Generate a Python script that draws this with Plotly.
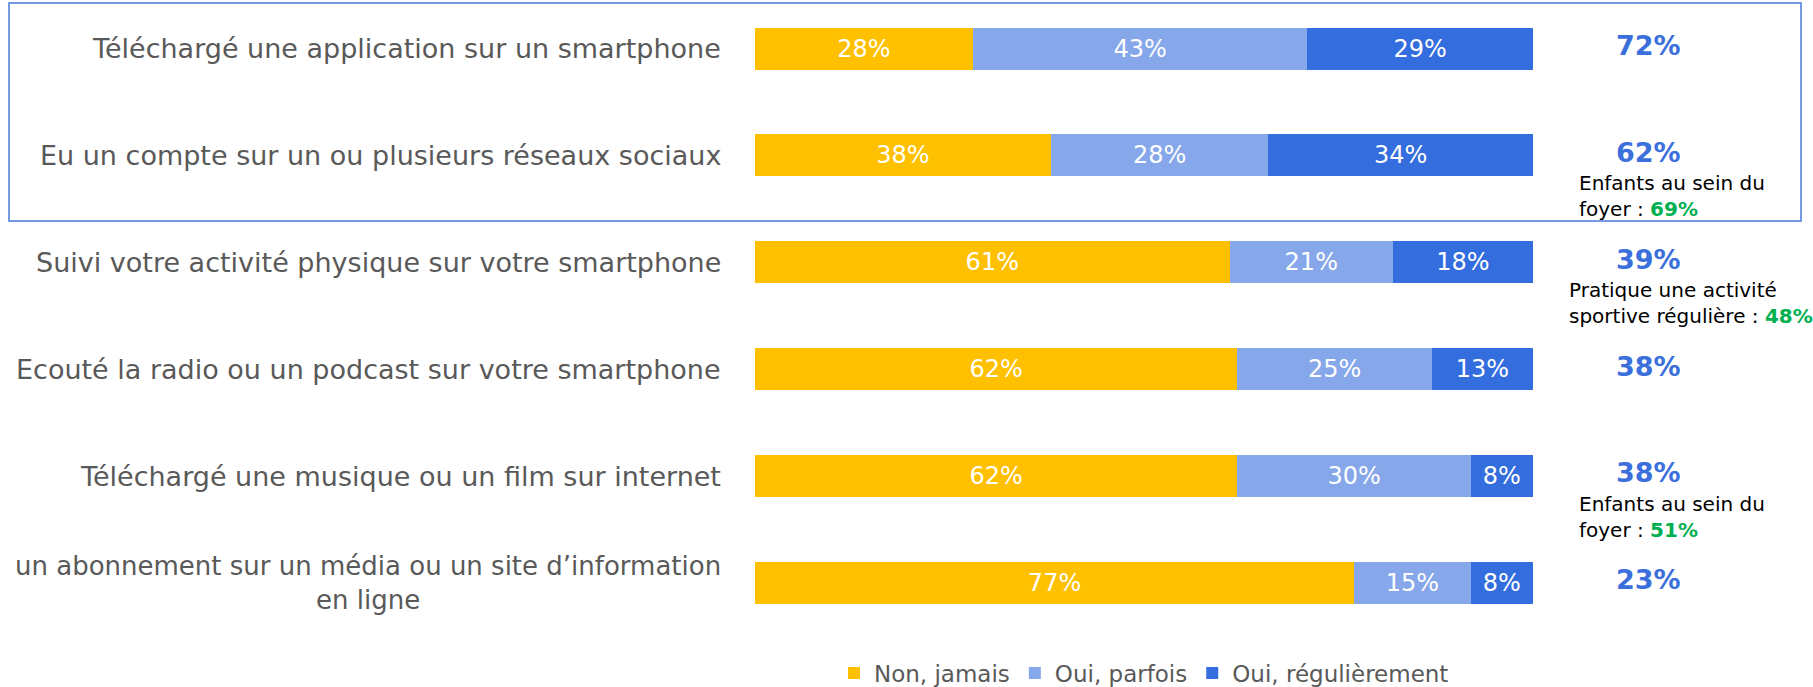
import plotly.graph_objects as go

categories = [
    "Téléchargé une application sur un smartphone",
    "Eu un compte sur un ou plusieurs réseaux sociaux",
    "Suivi votre activité physique sur votre smartphone",
    "Ecouté la radio ou un podcast sur votre smartphone",
    "Téléchargé une musique ou un film sur internet",
    "un abonnement sur un média ou un site d’information<br>en ligne",
]
non_jamais = [28, 38, 61, 62, 62, 77]
oui_parfois = [43, 28, 21, 25, 30, 15]
oui_regul = [29, 34, 18, 13, 8, 8]
totals = ["72%", "62%", "39%", "38%", "38%", "23%"]
notes = {
    1: ("Enfants au sein du<br>foyer : ", "69%"),
    2: ("Pratique une activité<br>sportive régulière : ", "48%"),
    4: ("Enfants au sein du<br>foyer : ", "51%"),
}
series_names = ["Non, jamais", "Oui, parfois", "Oui, régulièrement"]
colors = ["#FFC000", "#86A7EA", "#336DDE"]

W, H = 1813, 687
L, R, T, B = 755, 280, 20, 67
ids = list(range(len(categories)))

fig = go.Figure()
for name, vals, col in zip(series_names, [non_jamais, oui_parfois, oui_regul], colors):
    fig.add_trace(go.Bar(
        y=ids, x=vals, name=name, orientation="h",
        marker=dict(color=col, line=dict(width=0)),
        text=[f"{v}%" for v in vals], textposition="inside",
        insidetextanchor="middle", textangle=0,
        textfont=dict(color="white", size=24, family="DejaVu Sans"),
        hoverinfo="skip",
    ))

annotations = []
for i, cat in enumerate(categories):
    annotations.append(dict(
        x=-0.041, xref="paper", y=i, yref="y", text=cat, showarrow=False,
        xanchor="right", yanchor="middle", align="center",
        font=dict(size=26 if "<br>" in cat else 27, color="#595959", family="DejaVu Sans"),
    ))
    annotations.append(dict(
        x=1.148, xref="paper", y=i - 0.03, yref="y", text=f"<b>{totals[i]}</b>",
        showarrow=False, xanchor="center", yanchor="middle",
        font=dict(size=27, color="#3B6FDB", family="DejaVu Sans"),
    ))
for i, (txt, val) in notes.items():
    annotations.append(dict(
        x=1.044 if i == 2 else 1.057, xref="paper", y=i + 0.38, yref="y",
        text=f"{txt}<b><span style='color:#00B050'>{val}</span></b>",
        showarrow=False, xanchor="left", yanchor="middle", align="left",
        font=dict(size=20, color="#000000", family="DejaVu Sans"),
    ))

plot_h = H - T - B
def py(p):
    return (H - B - p) / plot_h
def px(p):
    return (p - L) / (W - L - R)

fig.update_layout(
    width=W, height=H,
    margin=dict(l=L, r=R, t=T, b=B, pad=0, autoexpand=False),
    barmode="stack", bargap=0.607,
    plot_bgcolor="white", paper_bgcolor="white",
    xaxis=dict(range=[0, 100], visible=False, fixedrange=True),
    yaxis=dict(range=[5.346, -0.267], visible=False, fixedrange=True),
    showlegend=True,
    legend=dict(orientation="h", x=0.5, xanchor="center",
                yref="container", y=1 - 673 / H, yanchor="middle",
                font=dict(size=23, color="#595959", family="DejaVu Sans"),
                traceorder="normal", itemwidth=30, bgcolor="rgba(0,0,0,0)"),
    annotations=annotations,
    shapes=[dict(type="rect", xref="paper", yref="paper",
                 x0=px(9), x1=px(1801), y0=py(221), y1=py(3),
                 line=dict(color="#4A7BDB", width=1.5), fillcolor="rgba(0,0,0,0)", layer="below")],
)

fig.write_html("out.html", config={"displayModeBar": False},
               post_script="document.body.style.margin='0px';")
